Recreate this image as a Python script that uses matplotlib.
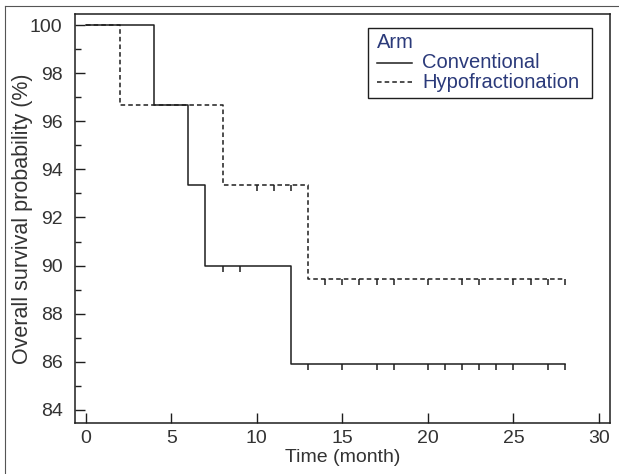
import matplotlib
matplotlib.use("Agg")
import matplotlib.pyplot as plt
from matplotlib.lines import Line2D
from matplotlib.patches import Rectangle
from matplotlib.ticker import MultipleLocator

plt.rcParams['font.family'] = ['Liberation Sans', 'DejaVu Sans']

# Kaplan-Meier step data (time in months, survival in %)
conv_t = [0, 4, 6, 7, 12, 28]
conv_s = [100, 96.67, 93.33, 90.0, 85.91, 85.91]
conv_cens_t = [8, 9, 13, 15, 17, 18, 20, 21, 22, 23, 24, 25, 27, 28]
conv_cens_s = [90.0, 90.0] + [85.91] * 12

hypo_t = [0, 2, 8, 13, 28]
hypo_s = [100, 96.67, 93.33, 89.44, 89.44]
hypo_cens_t = [10, 11, 12, 14, 15, 16, 17, 18, 20, 22, 23, 25, 26, 27, 28]
hypo_cens_s = [93.33] * 3 + [89.44] * 12

arms = ['Conventional', 'Hypofractionation']
xticks = [0, 5, 10, 15, 20, 25, 30]
yticks = [84, 86, 88, 90, 92, 94, 96, 98, 100]

ink = '#1e1e1e'
txt = '#333333'
blue = '#2b3a7a'
W, H = 619, 474


def px(x, y):
    # pixel position (from top-left) -> figure fraction
    return x / W, 1 - y / H


fig = plt.figure(figsize=(W / 100, H / 100), dpi=100)
ax = fig.add_axes([0.1212, 0.1068, 0.8643, 0.8637])

dash = (0, (3, 2))
ax.step(conv_t, conv_s, where='post', color=ink, lw=1.1)
ax.step(hypo_t, hypo_s, where='post', color=ink, lw=1.1, ls=dash)
ax.plot(conv_cens_t, conv_cens_s, ls='none', marker=3, ms=4.5, mew=1.1, color=ink)
ax.plot(hypo_cens_t, hypo_cens_s, ls='none', marker=3, ms=4.5, mew=1.1, color=ink)

ax.set_xlim(-0.62, 30.64)
ax.set_ylim(83.44, 100.46)
ax.set_xticks(xticks)
ax.set_yticks(yticks)
ax.yaxis.set_minor_locator(MultipleLocator(1))
ax.tick_params(axis='both', which='major', direction='in', length=7, width=1,
               color=ink, labelsize=14, labelcolor=txt)
ax.tick_params(axis='x', which='major', pad=5)
ax.tick_params(axis='y', which='major', pad=9)
ax.tick_params(axis='y', which='minor', direction='in', length=4.5, width=1, color=ink)
for sp in ax.spines.values():
    sp.set_color(ink)
    sp.set_linewidth(1.1)

ax.set_xlabel('Time (month)', fontsize=14, color=txt, labelpad=1)
ax.set_ylabel('Overall survival probability (%)', fontsize=15.5, color=txt)
ax.yaxis.set_label_coords(-0.099, 0.5)
ax.yaxis.label.set_va('center')

# legend box drawn by hand to match the tight source layout
x0, y0 = px(368, 98)
x1, y1 = px(592, 28)
fig.add_artist(Rectangle((x0, y0), x1 - x0, y1 - y0, transform=fig.transFigure,
                         fill=False, edgecolor=ink, lw=1.0))
fig.text(*px(377, 43), 'Arm', fontsize=14.5, color=blue, va='center', ha='left')
styles = ['-', dash]
rows = [63, 82]
for name, ls, yy in zip(arms, styles, rows):
    (lx0, ly), (lx1, _) = px(377, yy), px(412, yy)
    fig.add_artist(Line2D([lx0, lx1], [ly, ly], color=ink, lw=1.1, ls=ls))
    fig.text(*px(422, yy), name, fontsize=14.5, color=blue, va='center', ha='left')

# outer frame lines (left and top only, as in the cropped source)
fig.add_artist(Line2D([5 / W, 5 / W], [0, 1 - 6 / H], color='#555555', lw=0.8))
fig.add_artist(Line2D([5 / W, 1], [1 - 6 / H, 1 - 6 / H], color='#555555', lw=0.8))

fig.savefig('out.png', dpi=100)
